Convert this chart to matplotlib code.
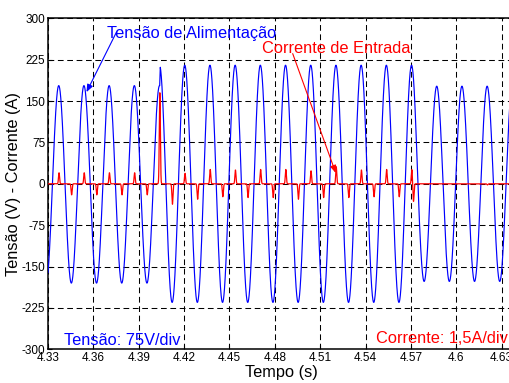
import numpy as np
import matplotlib
matplotlib.use("Agg")
import matplotlib.pyplot as plt

plt.rcParams['font.family'] = ['Liberation Sans', 'DejaVu Sans']
plt.rcParams['axes.unicode_minus'] = False

# ---- signal description -------------------------------------------------
line_freq = 60.0                 # Hz
t_first_peak = 4.3371            # time of first positive voltage peak (s)
half_cycle_start = -1            # index of first listed half cycle (a trough)

# magnitude of each voltage half cycle (V), alternating trough / peak
volt_half_peaks = [180, 178, 180, 178, 180, 178, 180, 178, 180, 215,
                   215, 215, 215, 215, 215, 215, 215, 215, 215, 215,
                   215, 215, 215, 215, 215, 215, 215, 215, 215, 215,
                   177, 177, 177, 177, 177, 177, 177, 177]
# supply step inside half cycle 8 (amplitude before the step)
volt_step_half_cycle = 8
volt_before_step = 178

# current pulse at each half cycle, scaled to the voltage axis (k = 0 ...)
curr_pulses = [20, -20, 20, -20, 20, -20, 20, -20, 165, -37,
               19, -28, 26, -23.5, 25, -25, 26, -25, 26, -28,
               23.5, -25, 31, -25, 25, -23.5, 26, -23.5, 26,
               0, 0, 0, 0, 0, -2, 0, -3]
curr_transient_half_cycle = 28
curr_transient_dip = -32

x_ticks = [4.33, 4.36, 4.39, 4.42, 4.45, 4.48, 4.51, 4.54, 4.57, 4.6, 4.63]
x_tick_labels = ['4.33', '4.36', '4.39', '4.42', '4.45', '4.48', '4.51',
                 '4.54', '4.57', '4.6', '4.63']
y_ticks = [-300, -225, -150, -75, 0, 75, 150, 225, 300]

# ---- waveform construction ---------------------------------------------
t = np.arange(4.32, 4.645, 2e-6)
half = 1.0 / (2 * line_freq)
w = 2 * np.pi * line_freq

volt = np.zeros_like(t)
for i, amp in enumerate(volt_half_peaks):
    k = half_cycle_start + i
    tk = t_first_peak + k * half
    sign = 1 if k % 2 == 0 else -1
    m = (t >= tk - half / 2) & (t < tk + half / 2)
    a = np.full(m.sum(), float(amp))
    if k == volt_step_half_cycle:
        tt = t[m]
        ramp = np.clip((tt - (tk + 0.0001)) / 0.0004, 0, 1)
        a = volt_before_step + (amp - volt_before_step) * ramp
    volt[m] = sign * a * np.cos(w * (t[m] - tk))

curr = np.zeros_like(t)
sigma = 0.00035
for k, amp in enumerate(curr_pulses):
    tk = t_first_peak + k * half + 0.0002
    curr += amp * np.exp(-0.5 * ((t - tk) / sigma) ** 2)
    if k == curr_transient_half_cycle:
        tk2 = tk + 0.0011
        curr += curr_transient_dip * np.exp(-0.5 * ((t - tk2) / sigma) ** 2)

# ---- figure --------------------------------------------------------------
W, H = 509, 383
fig = plt.figure(figsize=(W / 100, H / 100), dpi=100)
ax = fig.add_axes([48 / W, (H - 349.3) / H, 467 / W, 331 / H])

ax.plot(t, volt, color='#0000ff', lw=0.85, zorder=3)
ax.plot(t, curr, color='#ff0000', lw=0.9, zorder=4)

ax.set_xlim(4.33, 4.33 + 467 / 1512.0)
ax.set_ylim(-300, 300)
ax.set_xticks(x_ticks)
ax.set_xticklabels(x_tick_labels)
ax.set_yticks(y_ticks)
ax.tick_params(direction='in', length=3, width=0.8, labelsize=8.5,
               pad=2, top=False, right=False)
ax.grid(True, color='black', linestyle=(0, (5.5, 3.5)), linewidth=0.75, zorder=1)
ax.set_axisbelow(True)
for s in ax.spines.values():
    s.set_linewidth(1.1)

ax.set_xlabel('Tempo (s)', fontsize=11.8, labelpad=1)
ax.set_ylabel('Tensão (V) - Corrente (A)', fontsize=11.8)
ax.yaxis.set_label_coords(-0.057, 0.5)

ax.text(4.3687, 264.6, 'Tensão de Alimentação', color='#0000ff',
        fontsize=11.8, va='baseline', ha='left', zorder=5)
ax.text(4.4717, 236.4, 'Corrente de Entrada', color='#ff0000',
        fontsize=11.8, va='baseline', ha='left', zorder=5)
ax.text(4.3406, -292.4, 'Tensão: 75V/div', color='#0000ff',
        fontsize=11.8, va='baseline', ha='left', zorder=5)
ax.text(4.5469, -289.3, 'Corrente: 1,5A/div', color='#ff0000',
        fontsize=11.8, va='baseline', ha='left', zorder=5)

ax.annotate('', xy=(4.35546, 166.2), xytext=(4.3753, 275),
            arrowprops=dict(arrowstyle='-|>,head_length=0.45,head_width=0.18',
                            color='#0000ff', lw=0.8, shrinkA=0, shrinkB=0),
            zorder=6)
ax.annotate('', xy=(4.52034, 19.4), xytext=(4.49184, 236),
            arrowprops=dict(arrowstyle='-|>,head_length=0.45,head_width=0.18',
                            color='#ff0000', lw=0.8, shrinkA=0, shrinkB=0),
            zorder=6)

fig.savefig('out.png', dpi=100)
